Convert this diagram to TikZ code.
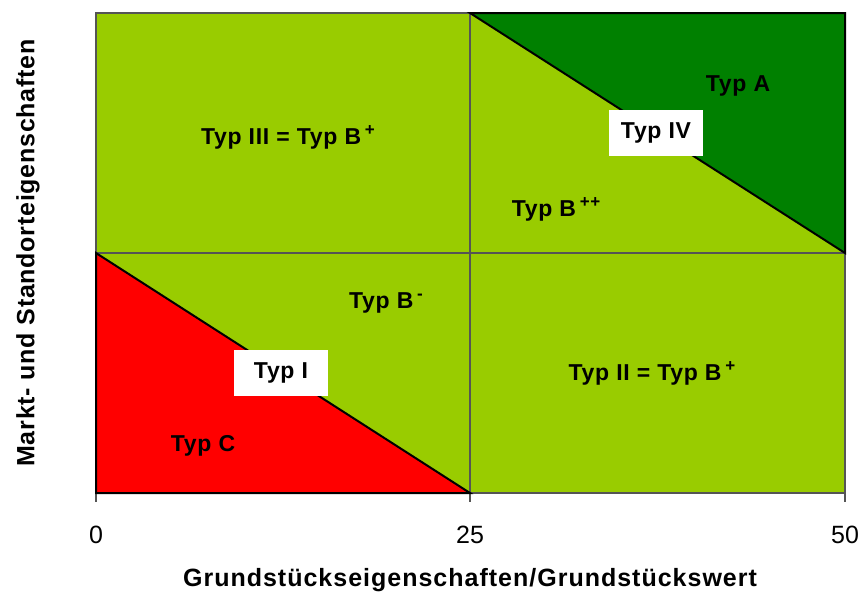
\documentclass[tikz,border=0pt]{standalone}
\usepackage{fontspec}
\setmainfont{Liberation Sans}
\definecolor{lightgreen}{HTML}{99CC00}
\definecolor{darkgreen}{HTML}{008000}
\definecolor{gridgray}{HTML}{555555}
\newcommand{\supmark}[1]{\,\raisebox{9pt}{\fontsize{17}{17}\selectfont #1}}
\begin{document}
\begin{tikzpicture}[x=1pt,y=-1pt,
  lbl/.style={font=\fontsize{23}{26}\selectfont\bfseries\addfontfeatures{LetterSpace=3}, inner sep=0pt, anchor=center},
  boxlbl/.style={lbl, fill=white, minimum width=94pt, minimum height=46pt},
  ticklbl/.style={font=\fontsize{25}{28}\selectfont, inner sep=0pt},
  axtitle/.style={inner sep=0pt},
  gridline/.style={draw=gridgray, line width=2pt},
  edge/.style={draw=black, line width=2pt, line join=miter}]
\useasboundingbox (0,0) rectangle (862,595);
% plot frame corners
\coordinate (tl) at (96,13);
\coordinate (tm) at (470,13);
\coordinate (tr) at (845,13);
\coordinate (ml) at (96,253);
\coordinate (mm) at (470,253);
\coordinate (mr) at (845,253);
\coordinate (bl) at (96,493);
\coordinate (bm) at (470,493);
\coordinate (br) at (845,493);
% background area
\fill[lightgreen] (tl) rectangle (br);
% coloured triangles
\fill[darkgreen] (tm) -- (tr) -- (mr) -- cycle;
\fill[red] (ml) -- (bl) -- (bm) -- cycle;
% grid and frame
\draw[gridline] (tl) rectangle (br);
\draw[gridline] (tm) -- (bm);
\draw[gridline] (ml) -- (mr);
% ticks
\coordinate (t0) at (96,502);
\coordinate (t1) at (470,502);
\coordinate (t2) at (845,502);
\draw[gridgray, line width=1.5pt] (bl) -- (t0) (bm) -- (t1) (br) -- (t2);
% triangle outlines
\draw[edge] (tm) -- (tr) -- (mr) -- cycle;
\draw[edge] (ml) -- (bl) -- (bm) -- cycle;
% region labels
\node[lbl] (a) at (738,86) {Typ A};
\node[boxlbl] (iv) at (656,133) {Typ IV};
\node[lbl] (iii) at (288,137) {Typ III = Typ B\supmark{+}};
\node[lbl] (bpp) at (556,209) {Typ B\supmark{++}};
\node[lbl] (bm2) at (386,303) {Typ B\supmark{-}};
\node[boxlbl] (i) at (281,373) {Typ I};
\node[lbl] (c) at (203,446) {Typ C};
\node[lbl] (ii) at (652,373) {Typ II = Typ B\supmark{+}};
% axis labels
\node[ticklbl] (x0) at (96,535) {0};
\node[ticklbl] (x1) at (470,535) {25};
\node[ticklbl] (x2) at (845,535) {50};
\node[axtitle] (xt) at (470,580) {\fontsize{25}{28}\selectfont\bfseries\addfontfeatures{LetterSpace=4}Grundstückseigenschaften/Grundstückswert};
\node[axtitle, rotate=90] (yt) at (28,253) {\fontsize{25}{28}\selectfont\bfseries\addfontfeatures{LetterSpace=3}Markt- und Standorteigenschaften};
\end{tikzpicture}
\end{document}
